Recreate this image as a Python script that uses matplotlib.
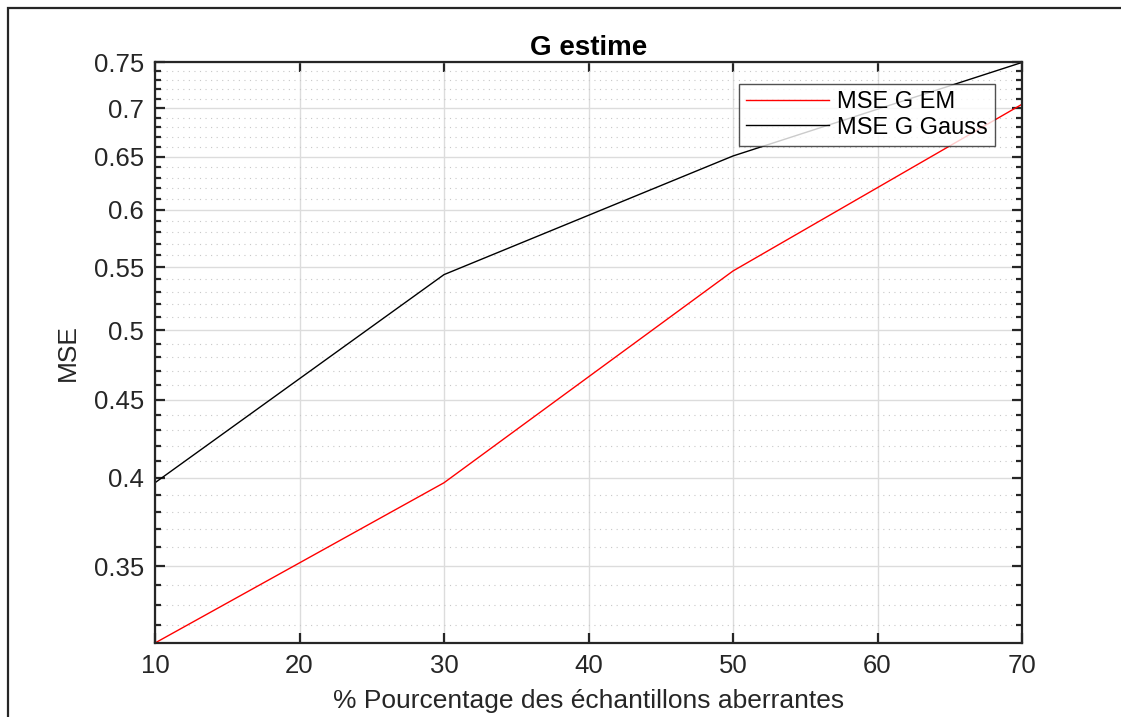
import matplotlib.pyplot as plt
import matplotlib.ticker as mticker
from matplotlib.patches import Rectangle
import numpy as np

plt.rcParams['font.family'] = ['Liberation Sans', 'DejaVu Sans']

# données
pourcentage = [10, 30, 50, 70]
mse_em = [0.3115, 0.397, 0.547, 0.704]
mse_gauss = [0.397, 0.544, 0.651, 0.750]
yticks = [0.35, 0.4, 0.45, 0.5, 0.55, 0.6, 0.65, 0.7, 0.75]
ytick_labels = ['0.35', '0.4', '0.45', '0.5', '0.55', '0.6', '0.65', '0.7', '0.75']
xticks = [10, 20, 30, 40, 50, 60, 70]

W, H = 1121, 717
fig = plt.figure(figsize=(W / 100, H / 100), dpi=100)
fig.patch.set_facecolor('white')

# cadre extérieur
fig.patches.append(Rectangle((8 / W, -0.1), 1.2, 1 - 8 / H + 0.1,
                             transform=fig.transFigure, fill=False,
                             edgecolor='#262626', linewidth=1.6))

ax = fig.add_axes([155 / W, 1 - 643 / H, (1022 - 155) / W, (643 - 62) / H])

ax.plot(pourcentage, mse_em, color='red', linewidth=1.0, label='MSE G EM')
ax.plot(pourcentage, mse_gauss, color='black', linewidth=1.0, label='MSE G Gauss')

ax.set_yscale('log')
ax.set_xlim(10, 70)
ax.set_ylim(0.3115, 0.7505)

ax.set_xticks(xticks)
ax.set_xticklabels([str(x) for x in xticks])
ax.xaxis.set_minor_locator(mticker.NullLocator())
ax.set_yticks(yticks)
ax.set_yticklabels(ytick_labels)
ax.yaxis.set_minor_locator(mticker.FixedLocator(np.arange(0.32, 0.75, 0.01)))
ax.yaxis.set_minor_formatter(mticker.NullFormatter())

# grilles style MATLAB
ax.grid(True, which='major', color='#dcdcdc', linewidth=1.0, linestyle='-')
ax.grid(True, which='minor', axis='y', color='#c8c8c8', linewidth=0.8,
        linestyle=(0, (1, 4)))
ax.set_axisbelow(True)

ax.tick_params(which='both', direction='in', top=True, right=True,
               colors='#262626', labelsize=18.5, width=1.6)
ax.tick_params(which='major', length=7, pad=8)
ax.tick_params(which='minor', length=4)
for s in ax.spines.values():
    s.set_color('#262626')
    s.set_linewidth(1.6)

ax.set_title('G estime', fontsize=20, fontweight='bold', pad=5)
ax.set_xlabel('% Pourcentage des échantillons aberrantes', fontsize=19,
              color='#262626', labelpad=8)
ax.set_ylabel('MSE', fontsize=19, color='#262626', labelpad=10)

leg = ax.legend(loc='upper right', bbox_to_anchor=(995 / W, 1 - 84 / H),
                bbox_transform=fig.transFigure, fontsize=17, frameon=True,
                fancybox=False, edgecolor='#262626', handlelength=3.5,
                borderpad=0.3, labelspacing=0.15, handletextpad=0.35,
                borderaxespad=0)
leg.get_frame().set_linewidth(1.0)

fig.savefig('out.png', dpi=100)
